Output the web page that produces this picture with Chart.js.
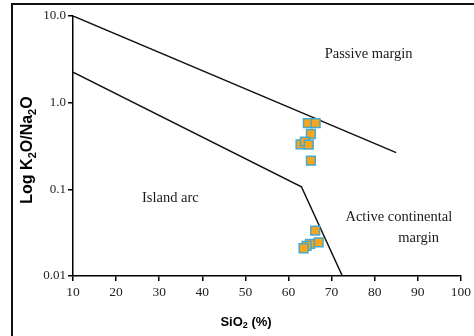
<!DOCTYPE html>
<html>
<head>
<meta charset="utf-8">
<script src="https://cdn.jsdelivr.net/npm/chart.js@4.4.1/dist/chart.umd.min.js"></script>
<style>
  html, body { margin: 0; padding: 0; background: #fff; overflow: hidden; }
  #wrap { position: relative; width: 474px; height: 336px; }
  #frame { position: absolute; left: 11px; top: 3px; width: 480px; height: 360px; border: 2px solid #111; box-sizing: border-box; }
  canvas { position: absolute; left: 0; top: 0; }
</style>
</head>
<body>
<div id="wrap">
  <div id="frame"></div>
  <canvas id="chart" width="474" height="336"></canvas>
</div>
<script>
// samples: SiO2 (%) and K2O/Na2O
var sio2 = [64.5, 66.3, 65.2, 62.8, 63.8, 64.7, 65.2, 66.2, 67.0, 65.0, 64.2, 63.5];
var k2oNa2o = [0.58, 0.58, 0.435, 0.33, 0.355, 0.328, 0.214, 0.0334, 0.0245, 0.0235, 0.0222, 0.0209];

// field boundaries
var upperLineX = [10, 85];
var upperLineY = [10, 0.265];
var lowerLineX = [10, 63, 72.5];
var lowerLineY = [2.25, 0.107, 0.01];

// axis ticks
var yTicks = [0.01, 0.1, 1, 10];
var yTickLabels = ['0.01', '0.1', '1.0', '10.0'];

// field names
var fieldNames = ['Passive margin', 'Island arc', 'Active continental', 'margin'];
var fieldX = [78.6, 32.6, 85.6, 90.2];
var fieldY = [3.65, 0.078, 0.048, 0.0275];

function toPoints(xs, ys) {
  return xs.map(function (x, i) { return {x: x, y: ys[i]}; });
}

// field names and axis titles
var textPlugin = {
  id: 'textPlugin',
  afterDraw: function (chart) {
    var ctx = chart.ctx;
    var xs = chart.scales.x, ys = chart.scales.y;
    ctx.save();
    ctx.fillStyle = '#1a1a1a';
    ctx.font = '14.5px "Liberation Serif", "Times New Roman", serif';
    ctx.textAlign = 'center';
    ctx.textBaseline = 'middle';
    fieldNames.forEach(function (name, i) {
      ctx.fillText(name, xs.getPixelForValue(fieldX[i]), ys.getPixelForValue(fieldY[i]));
    });

    // text with subscript parts: [text, isSub]
    function drawRich(parts, x, y, size) {
      var big = 'bold ' + size + 'px "Liberation Sans", Arial, sans-serif';
      var small = 'bold ' + Math.round(size * 0.68) + 'px "Liberation Sans", Arial, sans-serif';
      var total = 0;
      parts.forEach(function (p) { ctx.font = p[1] ? small : big; total += ctx.measureText(p[0]).width; });
      var cx = x - total / 2;
      ctx.textAlign = 'left';
      parts.forEach(function (p) {
        ctx.font = p[1] ? small : big;
        ctx.fillText(p[0], cx, p[1] ? y + size * 0.3 : y);
        cx += ctx.measureText(p[0]).width;
      });
    }

    ctx.fillStyle = '#000';
    drawRich([['SiO', false], ['2', true], [' (%)', false]], 246, 322, 13);

    ctx.translate(28, 150);
    ctx.rotate(-Math.PI / 2);
    drawRich([['Log K', false], ['2', true], ['O/Na', false], ['2', true], ['O', false]], 0, 0, 16);
    ctx.restore();
  }
};

new Chart(document.getElementById('chart'), {
  type: 'scatter',
  data: {
    datasets: [{
      label: 'Samples',
      data: toPoints(sio2, k2oNa2o),
      pointStyle: 'rect',
      pointRadius: 6.2,
      pointHoverRadius: 6.2,
      backgroundColor: '#F8A51A',
      borderColor: '#47A9CF',
      borderWidth: 1.5
    }, {
      label: 'Upper boundary',
      data: toPoints(upperLineX, upperLineY),
      showLine: true,
      pointRadius: 0,
      borderColor: '#111',
      borderWidth: 1.5
    }, {
      label: 'Lower boundary',
      data: toPoints(lowerLineX, lowerLineY),
      showLine: true,
      pointRadius: 0,
      borderColor: '#111',
      borderWidth: 1.5
    }]
  },
  options: {
    responsive: false,
    animation: false,
    layout: {padding: {left: 0, top: 16, right: 11, bottom: 0}},
    plugins: {
      legend: {display: false},
      tooltip: {enabled: false}
    },
    scales: {
      x: {
        type: 'linear',
        min: 10,
        max: 100,
        ticks: {
          stepSize: 10,
          color: '#222',
          padding: 3,
          font: {family: '"Liberation Serif", "Times New Roman", serif', size: 13.5}
        },
        grid: {drawOnChartArea: false, tickLength: 5, color: '#000', lineWidth: 1.5},
        border: {color: '#000', width: 1.5},
        afterFit: function (s) { s.height = 60; }
      },
      y: {
        type: 'logarithmic',
        min: 0.01,
        max: 10,
        afterBuildTicks: function (s) {
          s.ticks = yTicks.map(function (v) { return {value: v}; });
        },
        ticks: {
          color: '#222',
          padding: 2,
          font: {family: '"Liberation Serif", "Times New Roman", serif', size: 13}
        ,
          callback: function (v) { return yTickLabels[yTicks.indexOf(v)]; }
        },
        grid: {drawOnChartArea: false, tickLength: 5, color: '#000', lineWidth: 1.5},
        border: {color: '#000', width: 1.5},
        afterFit: function (s) { s.width = 73; }
      }
    }
  },
  plugins: [textPlugin]
});
</script>
</body>
</html>
